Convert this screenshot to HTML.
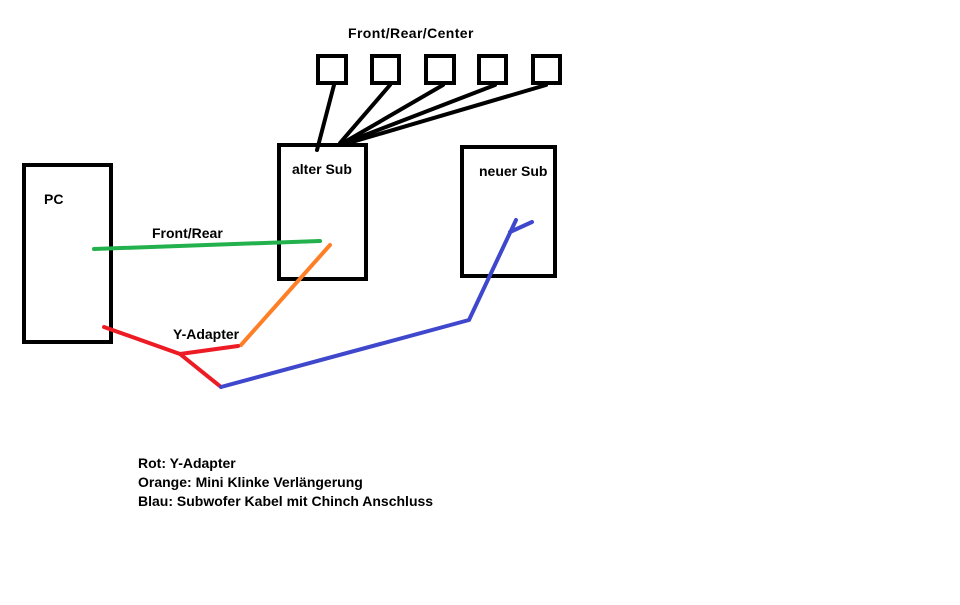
<!DOCTYPE html>
<html><head><meta charset="utf-8"><style>
body{margin:0;background:#fff}
svg text{font-family:"Liberation Sans",sans-serif;font-size:14px;font-weight:bold;fill:#000}
</style></head><body>
<svg width="960" height="600" xmlns="http://www.w3.org/2000/svg">
<rect width="960" height="600" fill="#fff"/>
<g fill="none" stroke="#000" stroke-width="4">
<rect x="24" y="165" width="87" height="177"/>
<rect x="279" y="145" width="87" height="134"/>
<rect x="462" y="147" width="93" height="129"/>
<rect x="318" y="56" width="28" height="27"/>
<rect x="372" y="56" width="27" height="27"/>
<rect x="426" y="56" width="28" height="27"/>
<rect x="479" y="56" width="27" height="27"/>
<rect x="533" y="56" width="27" height="27"/>
</g>
<g stroke="#000" stroke-width="4" stroke-linecap="round">
<line x1="334" y1="85" x2="317" y2="150"/>
<line x1="390" y1="85" x2="340" y2="143"/>
<line x1="443" y1="85" x2="343" y2="143"/>
<line x1="495" y1="85" x2="347" y2="142"/>
<line x1="546" y1="85" x2="352" y2="142"/>
</g>
<g fill="none" stroke-width="4" stroke-linecap="round" stroke-linejoin="round">
<line x1="94" y1="249" x2="320" y2="241" stroke="#22b14c"/>
<line x1="330" y1="245" x2="241" y2="345" stroke="#ff7f27"/>
<polyline points="104,327 180,354 238,346" stroke="#ed1c24"/>
<line x1="180" y1="354" x2="221" y2="387" stroke="#ed1c24"/>
<polyline points="221,387 469,320 516,220" stroke="#3f48cc"/>
<line x1="510" y1="232" x2="532" y2="222" stroke="#3f48cc"/>
</g>
<text x="348" y="38" letter-spacing="0.4">Front/Rear/Center</text>
<text x="292" y="174">alter Sub</text>
<text x="479" y="176">neuer Sub</text>
<text x="44" y="204">PC</text>
<text x="152" y="238">Front/Rear</text>
<text x="173" y="339">Y-Adapter</text>
<text x="138" y="468">Rot: Y-Adapter</text>
<text x="138" y="487">Orange: Mini Klinke Verlängerung</text>
<text x="138" y="506">Blau: Subwofer Kabel mit Chinch Anschluss</text>
</svg>
</body></html>
